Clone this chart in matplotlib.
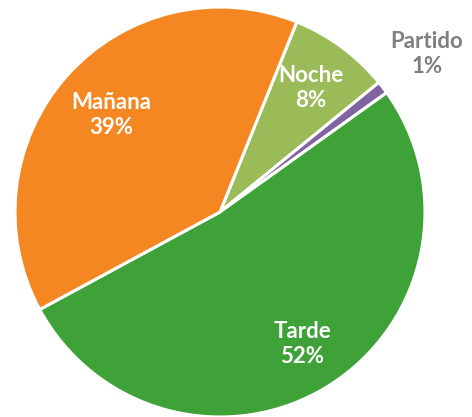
import numpy as np
import matplotlib.pyplot as plt

labels = ["Noche", "Partido", "Tarde", "Mañana"]
values = [8, 1, 52, 39]
colors = ["#9BBB59", "#8064A2", "#3EA238", "#F58722"]
label_colors = ["white", "#7F7F7F", "white", "white"]
label_dist = [0.75, 1.27, 0.76, 0.71]

fig = plt.figure(figsize=(4.72, 4.17), dpi=100)
ax = fig.add_axes([15 / 472, 0, 410 / 472, 410 / 417])

wedges, _ = ax.pie(values, colors=colors, startangle=68, counterclock=False,
                   radius=1, center=(0, 0), frame=True,
                   wedgeprops=dict(edgecolor="white", linewidth=2.2))
ax.set_xlim(-1, 1)
ax.set_ylim(-1, 1)
ax.axis("off")

total = sum(values)
for w, lab, v, c, d in zip(wedges, labels, values, label_colors, label_dist):
    ang = np.deg2rad((w.theta1 + w.theta2) / 2)
    x, y = d * np.cos(ang), d * np.sin(ang)
    ax.text(x, y, f"{lab}\n{v / total:.0%}", ha="center", va="center",
            color=c, fontsize=16, fontweight="bold", family="Lato",
            linespacing=1.25, clip_on=False)

fig.savefig("out.png", dpi=100)
